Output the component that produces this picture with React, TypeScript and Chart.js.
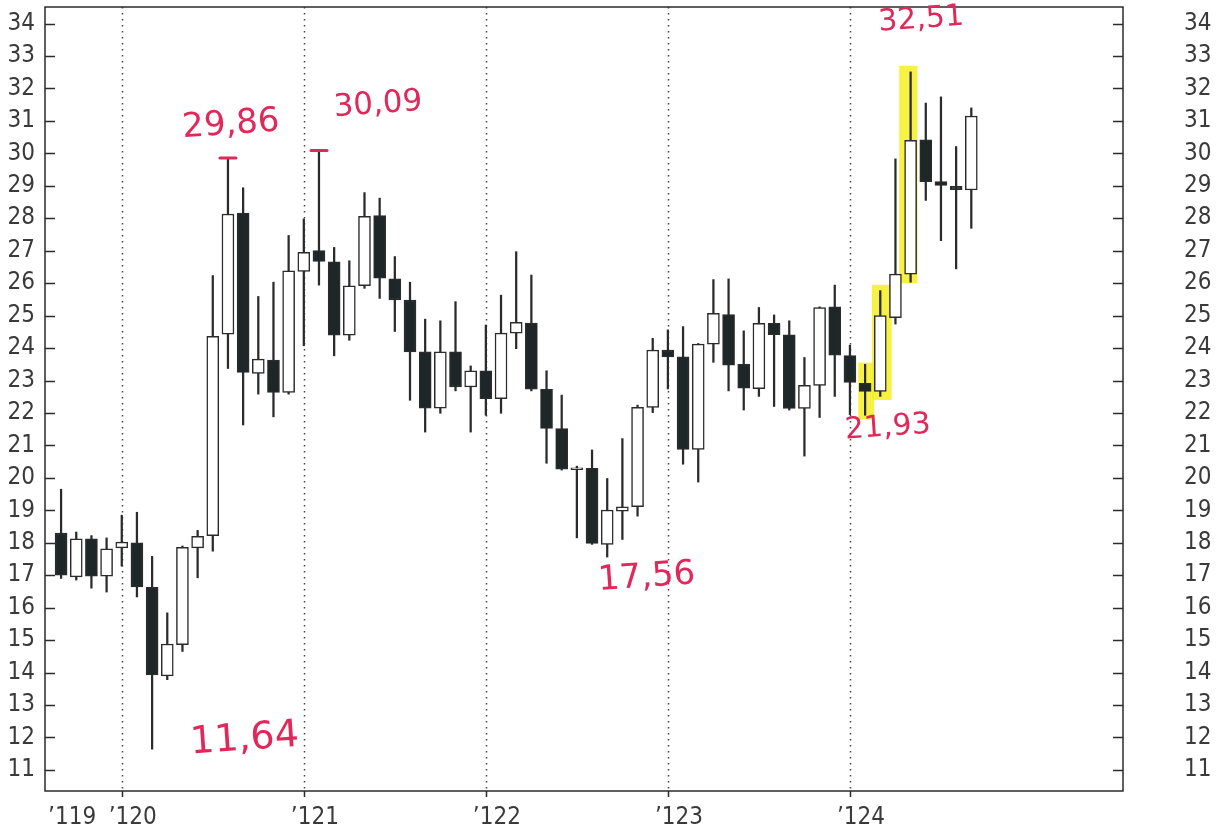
import React, { useEffect, useRef } from "react";
import { Chart, registerables } from "chart.js";

Chart.register(...registerables);

// Monthly candles, Sep 2019 .. Sep 2024. x = months since Aug 2019.
const FIRST_X = 1;
const OPEN = [
  18.3, 16.95, 18.12, 16.97, 17.84, 18.0, 16.63, 13.9, 14.86, 17.84,
  18.22, 24.43, 28.16, 23.22, 23.63, 22.63, 26.36, 27.0, 26.66, 24.4,
  25.92, 28.08, 26.13, 25.48, 23.88, 22.15, 23.88, 22.8, 23.3, 22.44,
  24.46, 24.77, 22.73, 21.52, 20.25, 20.29, 17.95, 18.97, 19.11, 22.17,
  23.94, 23.73, 20.88, 24.12, 25.03, 23.5, 22.75, 24.76, 24.41, 22.14,
  22.85, 25.27, 23.77, 22.91, 22.66, 24.94, 26.28, 30.42, 29.13, 28.98,
  28.87,
];
const HIGH = [
  19.65, 18.33, 18.22, 18.15, 18.85, 18.94, 17.58, 15.84, 17.9, 18.38,
  26.23, 29.86, 28.94, 25.59, 26.03, 27.47, 27.98, 30.09, 27.1, 26.69,
  28.79, 28.62, 26.82, 26.03, 24.89, 24.84, 25.43, 23.45, 24.71, 25.63,
  26.97, 26.25, 23.3, 22.55, 20.36, 20.86, 19.98, 21.21, 22.24, 24.3,
  24.56, 24.66, 24.14, 26.11, 26.13, 24.53, 25.25, 25.02, 24.84, 23.71,
  25.27, 25.94, 24.09, 23.5, 25.77, 29.83, 32.51, 31.55, 31.74, 30.21,
  31.4,
];
const LOW = [
  16.9, 16.85, 16.6, 16.48, 17.28, 16.33, 11.64, 13.78, 14.65, 16.92,
  17.74, 23.37, 21.63, 22.58, 21.88, 22.58, 24.07, 25.94, 23.76, 24.24,
  25.84, 25.53, 24.51, 22.39, 21.41, 21.99, 22.68, 21.41, 21.93, 21.99,
  23.98, 22.68, 20.45, 20.24, 18.15, 17.95, 17.56, 18.1, 18.82, 22.01,
  22.74, 20.42, 19.87, 23.56, 22.68, 22.09, 22.51, 22.2, 22.09, 20.67,
  21.86, 22.51, 21.95, 21.93, 22.51, 24.74, 26.03, 28.55, 27.31, 26.44,
  27.69,
];
const CLOSE = [
  17.0, 18.12, 16.97, 17.81, 18.02, 16.64, 13.93, 14.88, 17.86, 18.2,
  24.36, 28.13, 23.25, 23.66, 22.63, 26.38, 26.95, 26.67, 24.4, 25.92,
  28.06, 26.15, 25.48, 23.88, 22.15, 23.88, 22.8, 23.3, 22.44, 24.46,
  24.79, 22.73, 21.52, 20.27, 20.31, 17.98, 19.01, 19.11, 22.17, 23.94,
  23.73, 20.88, 24.12, 25.07, 23.47, 22.76, 24.76, 24.41, 22.14, 22.85,
  25.25, 23.78, 22.94, 22.66, 25.0, 26.28, 30.4, 29.13, 29.01, 28.88,
  31.15,
];

const Y_TICKS = [11, 12, 13, 14, 15, 16, 17, 18, 19, 20, 21, 22, 23, 24, 25, 26, 27, 28, 29, 30, 31, 32, 33, 34];
const YEAR_TICK_X = [1, 5, 17, 29, 41, 53];
const YEAR_LABELS = ["\u2019119", "\u2019120", "\u2019121", "\u2019122", "\u2019123", "\u2019124"];
const YEAR_LINES = [5, 17, 29, 41, 53];

// Handwritten notes (data coordinates)
const NOTE_TEXT = ["29,86", "30,09", "11,64", "17,56", "21,93", "32,51"];
const NOTE_X = [12.2, 21.9, 13.1, 39.6, 55.5, 57.7];
const NOTE_Y = [30.87, 31.49, 11.93, 16.92, 21.54, 34.11];
const NOTE_SIZE = [34, 31, 38, 34, 30, 30];
const MARK_X = [12, 18];
const MARK_Y = [29.86, 30.09];
// Highlighter strokes: [x0, x1, yLow, yHigh]
const HIGHLIGHTS = [
  [53.55, 54.6, 21.8, 23.55],
  [54.45, 55.75, 22.4, 25.95],
  [56.25, 57.45, 26.0, 32.7],
];

const LABEL_FONT = '"Liberation Sans Narrow", "DejaVu Sans Condensed", sans-serif';
const INK = "#2b2b2b";

const decor = {
  id: "decor",
  beforeDatasetsDraw(chart: any) {
    const { ctx, chartArea: a, scales } = chart;
    const x = scales.x;
    const y = scales.y;
    ctx.save();
    ctx.globalAlpha = 0.85;
    ctx.fillStyle = "#f4ee22";
    HIGHLIGHTS.forEach((h) => {
      const l = x.getPixelForValue(h[0]);
      const r = x.getPixelForValue(h[1]);
      const t = y.getPixelForValue(h[3]);
      const b = y.getPixelForValue(h[2]);
      ctx.fillRect(l, t, r - l, b - t);
    });
    ctx.globalAlpha = 1;
    ctx.strokeStyle = "#444";
    ctx.lineWidth = 1.5;
    ctx.setLineDash([1.5, 4.5]);
    YEAR_LINES.forEach((v) => {
      const px = Math.round(x.getPixelForValue(v)) + 0.5;
      ctx.beginPath();
      ctx.moveTo(px, a.top);
      ctx.lineTo(px, a.bottom);
      ctx.stroke();
    });
    ctx.restore();
  },
  afterDatasetsDraw(chart: any) {
    const { ctx, chartArea: a, scales } = chart;
    const x = scales.x;
    const y = scales.y;
    ctx.save();
    ctx.strokeStyle = INK;
    ctx.lineWidth = 1.5;
    ctx.strokeRect(a.left, a.top, a.right - a.left, a.bottom - a.top);
    ctx.beginPath();
    Y_TICKS.forEach((v) => {
      const py = Math.round(y.getPixelForValue(v)) + 0.5;
      ctx.moveTo(a.left, py);
      ctx.lineTo(a.left + 10, py);
      ctx.moveTo(a.right - 10, py);
      ctx.lineTo(a.right, py);
    });
    YEAR_LINES.forEach((v) => {
      const px = Math.round(x.getPixelForValue(v)) + 0.5;
      ctx.moveTo(px, a.bottom);
      ctx.lineTo(px, a.bottom + 6);
    });
    ctx.stroke();

    // red marks at annotated highs
    ctx.strokeStyle = "#e0285a";
    ctx.lineWidth = 3;
    ctx.lineCap = "round";
    MARK_X.forEach((mx, i) => {
      const px = x.getPixelForValue(mx);
      const py = y.getPixelForValue(MARK_Y[i]);
      ctx.beginPath();
      ctx.moveTo(px - 8, py);
      ctx.lineTo(px + 8, py);
      ctx.stroke();
    });

    // handwritten values
    ctx.fillStyle = "#e0285a";
    ctx.textAlign = "center";
    ctx.textBaseline = "middle";
    NOTE_TEXT.forEach((t, i) => {
      ctx.save();
      ctx.font = NOTE_SIZE[i] + 'px "DejaVu Sans", sans-serif';
      ctx.translate(x.getPixelForValue(NOTE_X[i]), y.getPixelForValue(NOTE_Y[i]));
      ctx.rotate(-0.07);
      ctx.fillText(t, 0, 0);
      ctx.restore();
    });
    ctx.restore();
  },
};

const zeroPadding = (s: any) => {
  s.paddingTop = 0;
  s.paddingBottom = 0;
  s.paddingLeft = 0;
  s.paddingRight = 0;
};

export default function App() {
  const ref = useRef<HTMLCanvasElement | null>(null);

  useEffect(() => {
    if (!ref.current) return;
    const bodies = CLOSE.map((c, i) => ({ x: FIRST_X + i, y: [OPEN[i], c] }));
    const wicks = HIGH.map((h, i) => ({ x: FIRST_X + i, y: [LOW[i], h] }));
    const bodyColors = CLOSE.map((c, i) => (c >= OPEN[i] ? "#ffffff" : "#1d2727"));

    const yScale = (pos: string, width: number, pad: number) => ({
      type: "linear",
      position: pos,
      min: 10.35,
      max: 34.51,
      grid: { display: false, drawTicks: false },
      border: { display: false },
      afterBuildTicks: (s: any) => {
        s.ticks = Y_TICKS.map((v) => ({ value: v }));
      },
      afterFit: (s: any) => {
        s.width = width;
        zeroPadding(s);
      },
      ticks: {
        autoSkip: false,
        padding: pad,
        color: "#3a3a3a",
        font: { family: LABEL_FONT, size: 24 },
        callback: (v: any) => String(v),
      },
    });

    const chart = new Chart(ref.current, {
      type: "bar",
      data: {
        datasets: [
          {
            data: bodies as any,
            backgroundColor: bodyColors,
            borderColor: INK,
            borderWidth: 1.5,
            borderSkipped: false,
            barThickness: 12,
            grouped: false,
            yAxisID: "y",
          } as any,
          {
            data: wicks as any,
            backgroundColor: INK,
            borderWidth: 0,
            barThickness: 1.6,
            grouped: false,
            yAxisID: "y",
          } as any,
        ],
      },
      options: {
        animation: false,
        responsive: false,
        layout: { autoPadding: false, padding: { top: 7, left: 0, right: 0, bottom: 0 } },
        plugins: { legend: { display: false }, tooltip: { enabled: false } },
        scales: {
          x: {
            type: "linear",
            offset: false,
            min: -0.06,
            max: 71,
            grid: { display: false, drawTicks: false, offset: false },
            border: { display: false },
            afterBuildTicks: (s: any) => {
              s.ticks = YEAR_TICK_X.map((v) => ({ value: v }));
            },
            afterFit: (s: any) => {
              s.height = 48;
              zeroPadding(s);
            },
            ticks: {
              autoSkip: false,
              maxRotation: 0,
              align: "start",
              labelOffset: -13,
              padding: 12,
              color: "#3a3a3a",
              font: { family: LABEL_FONT, size: 24 },
              callback: (v: any) => {
                const k = YEAR_TICK_X.indexOf(Number(v));
                return k >= 0 ? YEAR_LABELS[k] : "";
              },
            },
          },
          y: yScale("left", 45, 10),
          y2: yScale("right", 93, 61),
        } as any,
      },
      plugins: [decor],
    });
    return () => chart.destroy();
  }, []);

  return (
    <div style={{ position: "absolute", left: 0, top: 0, width: 1216, height: 839, background: "#fff" }}>
      <canvas ref={ref} width={1216} height={839} style={{ display: "block" }} />
    </div>
  );
}
